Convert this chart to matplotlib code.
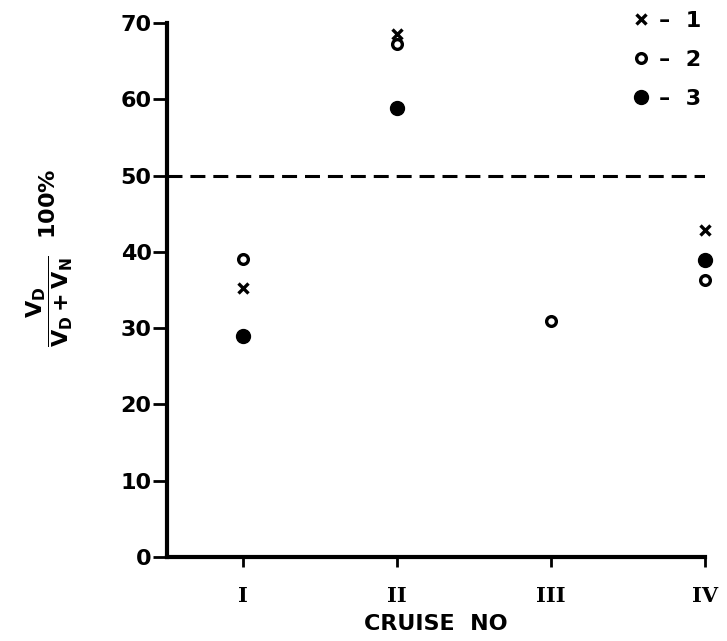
import numpy as np
from matplotlib import pyplot as plt
from matplotlib.lines import Line2D

# cruise positions and the three ratio series (percent)
cruises = ['I', 'II', 'III', 'IV']
cruise_pos = [1, 2, 3, 4]
series_1 = [35.3, 68.5, np.nan, 42.9]   # x
series_2 = [39.1, 67.2, 31.0, 36.3]     # open circle
series_3 = [29.0, 58.8, np.nan, 38.9]   # filled circle
threshold = 50

plt.rcParams['font.family'] = ['DejaVu Sans']
plt.rcParams['font.weight'] = 'bold'

fig = plt.figure(figsize=(7.27, 6.41), dpi=100)
ax = fig.add_axes([167 / 727, 1 - 557 / 641, (705 - 167) / 727, (557 - 23) / 641])

ax.plot(cruise_pos, series_1, linestyle='none', marker='x', ms=7.5, mew=2.4,
        color='black', clip_on=False, zorder=3)
ax.plot(cruise_pos, series_2, linestyle='none', marker='o', ms=7, mew=2.4,
        mfc='white', mec='black', clip_on=False, zorder=3)
ax.plot(cruise_pos, series_3, linestyle='none', marker='o', ms=10,
        color='black', clip_on=False, zorder=3)

ax.axhline(threshold, color='black', lw=2.2, dashes=(4.9, 2.6))

ax.set_xlim(0.506, 4.0)
ax.set_ylim(0, 70)
ax.set_yticks(np.arange(0, 71, 10))
ax.set_xticks(cruise_pos)
ax.set_xticklabels(cruises, family='DejaVu Serif', fontsize=15, fontweight='bold')
ax.tick_params(axis='y', direction='out', length=10, width=2, labelsize=16, pad=1)
ax.tick_params(axis='x', direction='out', length=7, width=2, pad=14)

for side in ['top', 'right']:
    ax.spines[side].set_visible(False)
for side in ['left', 'bottom']:
    ax.spines[side].set_linewidth(3)

ax.set_xlabel('CRUISE  NO', fontsize=16, fontweight='bold', labelpad=6)

ax.text(-0.2175, 0.56,
        r'$\dfrac{\mathbf{V}_\mathbf{D}}{\mathbf{V}_\mathbf{D} + \mathbf{V}_\mathbf{N}}$'
        r'  $\mathrm{100\%}$',
        transform=ax.transAxes, rotation=90, ha='center', va='center', fontsize=16)

handles = [
    Line2D([], [], linestyle='none', marker='x', ms=7.5, mew=2.4, color='black'),
    Line2D([], [], linestyle='none', marker='o', ms=7, mew=2.4, mfc='white', mec='black'),
    Line2D([], [], linestyle='none', marker='o', ms=10, color='black'),
]
ax.legend(handles, ['–  1', '–  2', '–  3'], loc='upper right', frameon=False,
          bbox_to_anchor=(1.03, 1.06), fontsize=16, labelspacing=0.85,
          handletextpad=0.2, handlelength=1.2)

fig.savefig('out.png', dpi=100)
